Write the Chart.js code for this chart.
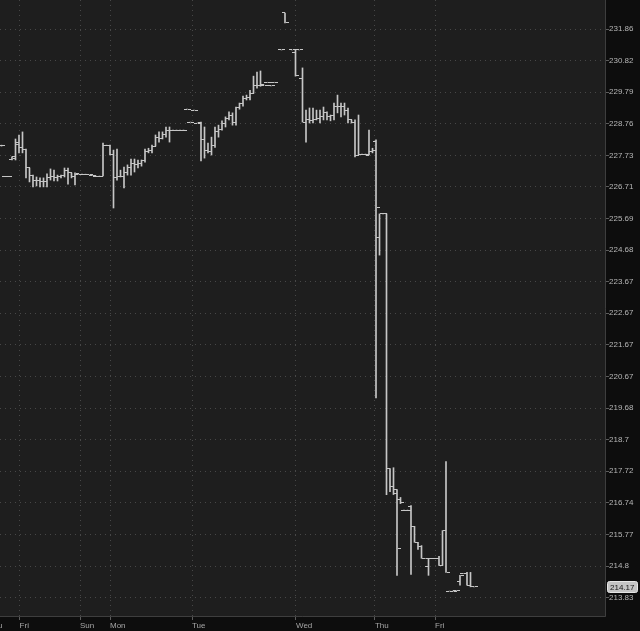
<!DOCTYPE html>
<html><head><meta charset="utf-8">
<script src="https://cdn.jsdelivr.net/npm/chart.js@4.4.1/dist/chart.umd.min.js"></script>
<style>html,body{margin:0;padding:0;background:#0d0d0d;overflow:hidden}canvas{display:block}</style>
</head><body>
<canvas id="c" width="640" height="631"></canvas>
<script>
// OHLC bars, one entry per time slot (null = no bar)
const opens = [228.04,227.04,227.04,227.61,227.68,228.13,227.99,227.93,227.32,227.09,
226.90,226.93,226.87,226.87,227.00,227.06,227.00,227.06,227.09,227.25,
227.16,227.06,227.12,227.12,227.12,227.11,227.08,227.06,227.06,227.06,
228.06,228.06,227.77,227.00,227.03,227.06,227.19,227.32,227.48,227.42,
227.45,227.55,227.87,227.90,228.03,228.32,228.26,228.42,228.55,228.55,
228.55,228.55,228.55,229.23,228.81,229.20,228.78,
228.81,228.23,227.90,227.84,228.06,228.49,228.58,228.75,228.94,229.04,228.81,229.27,229.40,229.59,229.62,229.75,230.02,230.02,230.02,230.11,229.99,230.11,null,
231.17,232.39,null,231.17,231.07,231.17,230.22,228.81,228.88,228.85,228.88,228.94,228.98,229.11,228.98,229.01,229.33,229.33,229.33,229.20,228.88,228.81,227.74,227.77,227.77,227.74,227.84,228.19,225.07,225.84,225.84,217.80,217.25,
217.15,216.85,216.52,216.52,216.63,216.02,215.53,215.40,215.04,214.79,215.04,215.04,215.04,214.82,215.89,214.04,214.04,214.05,214.34,214.58,214.58,214.22,214.17];
const highs = [228.06,227.04,227.04,227.68,228.26,228.39,228.49,227.93,227.32,227.09,
227.03,227.00,227.00,227.13,227.29,227.25,227.09,227.09,227.32,227.32,
227.16,227.16,227.12,227.12,227.12,227.11,227.08,227.06,227.06,228.13,
228.06,228.06,227.90,227.93,227.25,227.35,227.42,227.61,227.61,227.58,
227.58,227.93,227.96,228.06,228.39,228.49,228.49,228.65,228.65,228.55,
228.55,228.55,228.55,229.23,228.81,229.20,228.78,
228.81,228.65,228.13,228.32,228.65,228.71,228.85,228.98,229.14,229.11,229.30,229.43,229.66,229.69,229.85,230.31,230.44,230.48,230.02,230.11,229.99,230.11,null,
231.17,232.39,null,231.17,231.17,231.17,230.58,229.20,229.27,229.27,229.20,229.20,229.30,229.14,229.04,229.43,229.69,229.43,229.43,229.27,228.88,228.88,229.04,227.77,227.77,228.55,227.96,228.23,225.84,225.84,225.84,217.80,217.83,
217.15,216.91,216.52,216.52,216.66,216.02,215.53,215.43,215.04,215.04,215.04,215.04,215.10,215.89,218.02,214.04,214.04,214.05,214.52,214.58,214.61,214.61,214.17];
const lows = [228.03,227.04,227.04,227.58,227.58,227.81,227.81,227.00,226.87,226.71,
226.74,226.71,226.71,226.71,226.93,226.90,226.90,227.00,227.03,226.80,
227.00,226.77,227.12,227.12,227.12,227.11,227.08,227.06,227.06,227.06,
228.06,227.74,226.03,226.93,227.03,226.68,227.09,227.09,227.19,227.32,
227.38,227.51,227.81,227.81,228.03,228.16,228.26,228.32,228.16,228.55,
228.55,228.55,228.55,229.23,228.81,229.20,228.78,
227.55,227.64,227.81,227.74,227.99,228.32,228.55,228.65,228.88,228.71,228.71,229.23,229.33,229.53,229.53,229.75,229.92,229.98,230.02,230.11,229.99,230.11,null,
231.17,232.06,null,231.17,230.31,231.17,228.81,228.16,228.78,228.78,228.88,228.78,228.88,228.88,228.85,228.88,229.11,228.98,229.04,228.78,228.78,227.68,227.74,227.77,227.77,227.74,227.81,220.00,224.52,225.84,217.00,217.09,217.00,
214.52,216.72,216.52,216.52,214.55,215.53,215.31,215.04,215.04,214.52,215.04,215.04,214.82,214.82,214.61,214.04,214.04,214.05,214.22,214.58,214.22,214.17,214.17];
const closes = [228.04,227.04,227.04,227.64,228.09,227.99,227.93,227.32,227.09,226.90,
226.93,226.87,226.87,227.00,227.06,227.00,227.06,227.09,227.25,227.16,
227.06,227.13,227.12,227.12,227.12,227.11,227.08,227.06,227.06,228.06,
228.06,227.77,227.00,227.03,227.06,227.19,227.32,227.48,227.42,227.45,
227.55,227.87,227.90,228.03,228.32,228.26,228.42,228.55,228.55,228.55,
228.55,228.55,228.55,229.23,228.81,229.20,228.78,
228.23,227.90,227.84,228.06,228.49,228.58,228.75,228.94,229.04,228.81,229.27,229.40,229.59,229.62,229.75,230.02,230.02,230.05,230.02,230.11,229.99,230.11,null,
231.17,232.06,null,231.17,230.34,231.17,228.81,228.88,228.85,228.88,228.94,228.98,229.11,228.98,229.01,229.33,229.33,229.33,229.20,228.88,228.81,227.74,227.77,227.77,227.77,227.84,227.90,226.06,225.84,225.84,217.80,217.25,217.03,
215.34,216.75,216.52,216.52,216.02,215.53,215.40,215.04,215.04,215.04,215.04,215.04,214.82,215.89,214.61,214.04,214.04,214.05,214.52,214.58,214.22,214.19,214.17];

// Day labels on the time axis (slot where each day starts)
const dayTickSlots = [-3.7, 5.17, 22.43, 31.0, 54.43, 84.14, 106.71, 123.86];
const dayTickLabels = ['Thu', 'Fri', 'Sun', 'Mon', 'Tue', 'Wed', 'Thu', 'Fri'];

// Price axis labels
const priceTickLabels = ['231.86','230.82','229.79','228.76','227.73','226.71','225.69','224.68','223.67','222.67','221.67','220.67','219.68','218.7','217.72','216.74','215.77','214.8','213.83'];
const lastPrice = 214.17;

const BAR = '#c6c6c6';
const FONT = 'Liberation Sans';

function tickImage(side) {
  const c = document.createElement('canvas');
  c.width = 7; c.height = 1;
  const g = c.getContext('2d');
  g.fillStyle = BAR;
  if (side === 'open') g.fillRect(0, 0, 3, 1); else g.fillRect(4, 0, 3, 1);
  return c;
}

const slots = opens.map((_, i) => i).filter(i => highs[i] !== null);
const rangeData = slots.map(i => ({ x: i, y: [lows[i], highs[i]] }));
const openData = slots.map(i => ({ x: i, y: opens[i] }));
const closeData = slots.map(i => ({ x: i, y: closes[i] }));

const framePlugin = {
  id: 'frame',
  beforeDraw(chart) {
    const { ctx, chartArea: a } = chart;
    ctx.save();
    ctx.fillStyle = '#0d0d0d';
    ctx.fillRect(0, 0, chart.width, chart.height);
    ctx.fillStyle = '#1e1e1e';
    ctx.fillRect(a.left, a.top, a.right - a.left, a.bottom - a.top);
    ctx.restore();
    ctx.imageSmoothingEnabled = false;
  },
  afterDraw(chart) {
    const { ctx, chartArea: a } = chart;
    ctx.save();
    ctx.strokeStyle = '#3e3e3e';
    ctx.lineWidth = 1;
    ctx.beginPath();
    ctx.moveTo(a.right - 0.5, a.top);
    ctx.lineTo(a.right - 0.5, a.bottom - 0.5);
    ctx.lineTo(a.left, a.bottom - 0.5);
    ctx.stroke();
    // last price marker
    const y = chart.scales.y.getPixelForValue(lastPrice);
    const x0 = a.right + 1, w = 30, h = 11;
    ctx.fillStyle = '#c4c4c4';
    ctx.strokeStyle = '#e6e6e6';
    ctx.beginPath();
    if (ctx.roundRect) ctx.roundRect(x0 + 0.5, Math.round(y - h / 2) + 0.5, w, h, 2); else ctx.rect(x0 + 0.5, Math.round(y - h / 2) + 0.5, w, h);
    ctx.fill(); ctx.stroke();
    ctx.fillStyle = '#151515';
    ctx.font = '8px "' + FONT + '"';
    ctx.textBaseline = 'middle';
    ctx.textAlign = 'left';
    ctx.fillText(lastPrice.toFixed(2), x0 + 3, Math.round(y) + 1);
    ctx.restore();
  }
};

new Chart(document.getElementById('c'), {
  type: 'bar',
  data: {
    datasets: [
      { type: 'bar', data: rangeData, backgroundColor: BAR, borderWidth: 0, barThickness: 1 },
      { type: 'line', data: openData, showLine: false, pointStyle: tickImage('open'), pointRadius: 2, pointHoverRadius: 2 },
      { type: 'line', data: closeData, showLine: false, pointStyle: tickImage('close'), pointRadius: 2, pointHoverRadius: 2 }
    ]
  },
  options: {
    responsive: false,
    animation: false,
    events: [],
    layout: { padding: 0, autoPadding: false },
    plugins: { legend: { display: false }, tooltip: { enabled: false } },
    scales: {
      x: {
        type: 'linear', position: 'bottom', min: -0.4286, max: 172.714, offset: false,
        afterBuildTicks: s => { s.ticks = dayTickSlots.map(v => ({ value: v })); },
        afterFit: s => { s.height = 14; s.paddingLeft = 0; s.paddingRight = 0; },
        ticks: { autoSkip: false, maxRotation: 0, minRotation: 0, align: 'start', padding: 1,
          color: '#a6a6a6', font: { family: FONT, size: 8 }, callback: (v, i) => dayTickLabels[i] },
        grid: { offset: false, color: '#474747', lineWidth: 1, drawTicks: true, tickLength: 3, tickColor: '#5c5c5c', tickBorderDash: [] },
        border: { display: false, dash: [1, 4] }
      },
      y: {
        type: 'logarithmic', position: 'right', min: 213.252, max: 232.819,
        afterBuildTicks: s => { s.ticks = priceTickLabels.map(t => ({ value: parseFloat(t) })); },
        afterFit: s => { s.width = 34; s.paddingTop = 0; s.paddingBottom = 0; },
        ticks: { autoSkip: false, padding: 0, color: '#b6b6b6', font: { family: FONT, size: 8 },
          callback: (v, i) => priceTickLabels[i] },
        grid: { color: '#474747', lineWidth: 1, drawTicks: true, tickLength: 3, tickColor: '#5c5c5c', tickBorderDash: [] },
        border: { display: false, dash: [1, 4] }
      }
    }
  },
  plugins: [framePlugin]
});
</script>
</body></html>
